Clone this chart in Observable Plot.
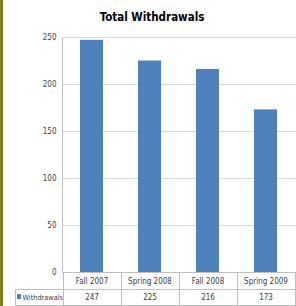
<!DOCTYPE html>
<html>
<head>
<meta charset="utf-8">
<script src="https://cdn.jsdelivr.net/npm/d3@7"></script>
<script src="https://cdn.jsdelivr.net/npm/@observablehq/plot@0.6"></script>
<style>
  html, body { margin: 0; padding: 0; background: #fff; }
  #chart { width: 296px; height: 306px; }
  svg { font-family: "Liberation Sans Narrow", "DejaVu Sans Condensed", "Arial Narrow", sans-serif; }
</style>
</head>
<body>
<div id="chart"></div>
<script>
const categories = ["Fall 2007", "Spring 2008", "Fall 2008", "Spring 2009"];
const withdrawals = [247, 225, 216, 173];
const yTicks = [0, 50, 100, 150, 200, 250];
const seriesName = "Withdrawals";
const title = "Total Withdrawals";

const data = categories.map((c, i) => ({ term: c, value: withdrawals[i] }));

const plot = Plot.plot({
  width: 296,
  height: 306,
  marginTop: 37,
  marginBottom: 34,
  marginLeft: 62,
  marginRight: 0,
  style: { fontSize: "8px", color: "#404040", background: "#fff" },
  x: { domain: categories, paddingInner: 0.6, paddingOuter: 0.3, axis: null },
  y: { domain: [0, 250], ticks: yTicks, axis: null },
  marks: [
    Plot.gridY(yTicks, { stroke: "#d9d9d9", strokeOpacity: 1 }),
    Plot.axisY(yTicks, { tickSize: 0, tickPadding: 6, fill: "#404040", fontSize: 8, label: null }),
    Plot.barY(data, { x: "term", y: "value", fill: "#4f81bd" }),
    Plot.ruleY([0], { stroke: "#bfbfbf" }),
    Plot.frame({ anchor: "left", stroke: "#bfbfbf" }),
    Plot.text(data, { x: "term", y: () => 0, text: "term", dy: 9, fill: "#404040", fontSize: 8 }),
    Plot.text(data, { x: "term", y: () => 0, text: d => String(d.value), dy: 25, fill: "#404040", fontSize: 8 })
  ]
});

document.getElementById("chart").appendChild(plot);

// Data table grid and decorations using the plot's own x scale
const svg = d3.select(plot);
const xs = plot.scale("x");
const step = xs.step;
const left = xs.apply(categories[0]) - (step - xs.bandwidth) / 2;
const y0 = 272, y1 = 289, y2 = 305.5;
const g = svg.append("g").attr("stroke", "#bfbfbf").attr("fill", "none");
for (let i = 0; i <= categories.length; i++) {
  const xv = Math.min(295.5, Math.round(left + i * step) + 0.5);
  g.append("line").attr("x1", xv).attr("x2", xv).attr("y1", y0).attr("y2", y2);
}
g.append("line").attr("x1", 15.5).attr("x2", 296).attr("y1", y1 + 0.5).attr("y2", y1 + 0.5);
g.append("line").attr("x1", 15.5).attr("x2", 296).attr("y1", y2).attr("y2", y2);
g.append("line").attr("x1", 15.5).attr("x2", 15.5).attr("y1", y1).attr("y2", y2);

svg.append("rect").attr("x", 17).attr("y", 294).attr("width", 4).attr("height", 5).attr("fill", "#4f81bd");
svg.append("text").attr("x", 22.5).attr("y", 300).attr("text-anchor", "start").attr("font-size", 7.3)
  .attr("fill", "#404040").text(seriesName);

svg.append("text").attr("x", 152).attr("y", 21).attr("text-anchor", "middle")
  .attr("font-size", 11.5).attr("font-weight", "bold").attr("fill", "#000").text(title);

svg.append("rect").attr("x", 0).attr("y", 0).attr("width", 3).attr("height", 306).attr("fill", "#7f7f14");
</script>
</body>
</html>
